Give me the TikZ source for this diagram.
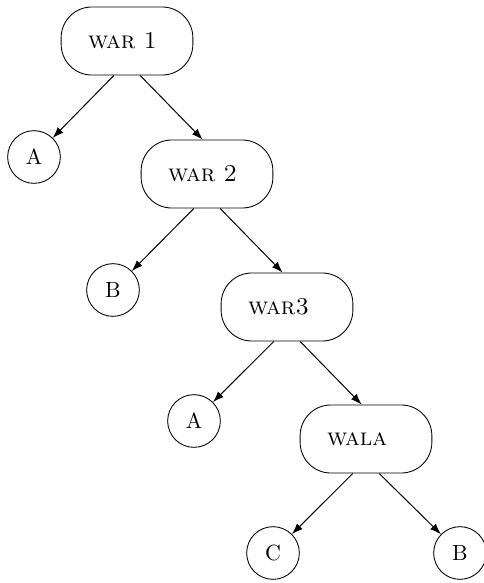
\documentclass[tikz,border=0pt]{standalone}
\usetikzlibrary{arrows.meta}
\begin{document}
\begin{tikzpicture}[x=0.4555pt,y=-0.4555pt,
  warbox/.style={draw,rounded corners=14pt,minimum height=31pt,text width=35.4pt,inner xsep=12.3pt,align=left,font=\fontsize{11}{13}\selectfont\scshape},
  leaf/.style={draw,circle,minimum size=24pt,inner sep=0pt},
  edge/.style={-{Latex[length=5pt,width=3.6pt]},line width=0.45pt}]
\useasboundingbox (0,0) rectangle (483,583);
\node[warbox] (w1) at (127,41) {war 1};
\node[leaf] (a1) at (34,157) {A};
\node[warbox] (w2) at (207,174) {war 2};
\node[leaf] (b1) at (113,290) {B};
\node[warbox] (w3) at (287,307) {war3};
\node[leaf] (a2) at (194,421) {A};
\node[warbox] (w4) at (366,439) {wala};
\node[leaf] (c) at (273,553) {C};
\node[leaf] (b2) at (460,553) {B};
\draw[edge] ([xshift=-6pt]w1.south) -- (a1);
\draw[edge] ([xshift=6pt]w1.south) -- ([xshift=-2pt]w2.north);
\draw[edge] ([xshift=-6pt]w2.south) -- (b1);
\draw[edge] ([xshift=6pt]w2.south) -- ([xshift=-2pt]w3.north);
\draw[edge] ([xshift=-6pt]w3.south) -- (a2);
\draw[edge] ([xshift=6pt]w3.south) -- ([xshift=-2pt]w4.north);
\draw[edge] ([xshift=-6pt]w4.south) -- (c);
\draw[edge] ([xshift=6pt]w4.south) -- (b2);
\end{tikzpicture}
\end{document}
